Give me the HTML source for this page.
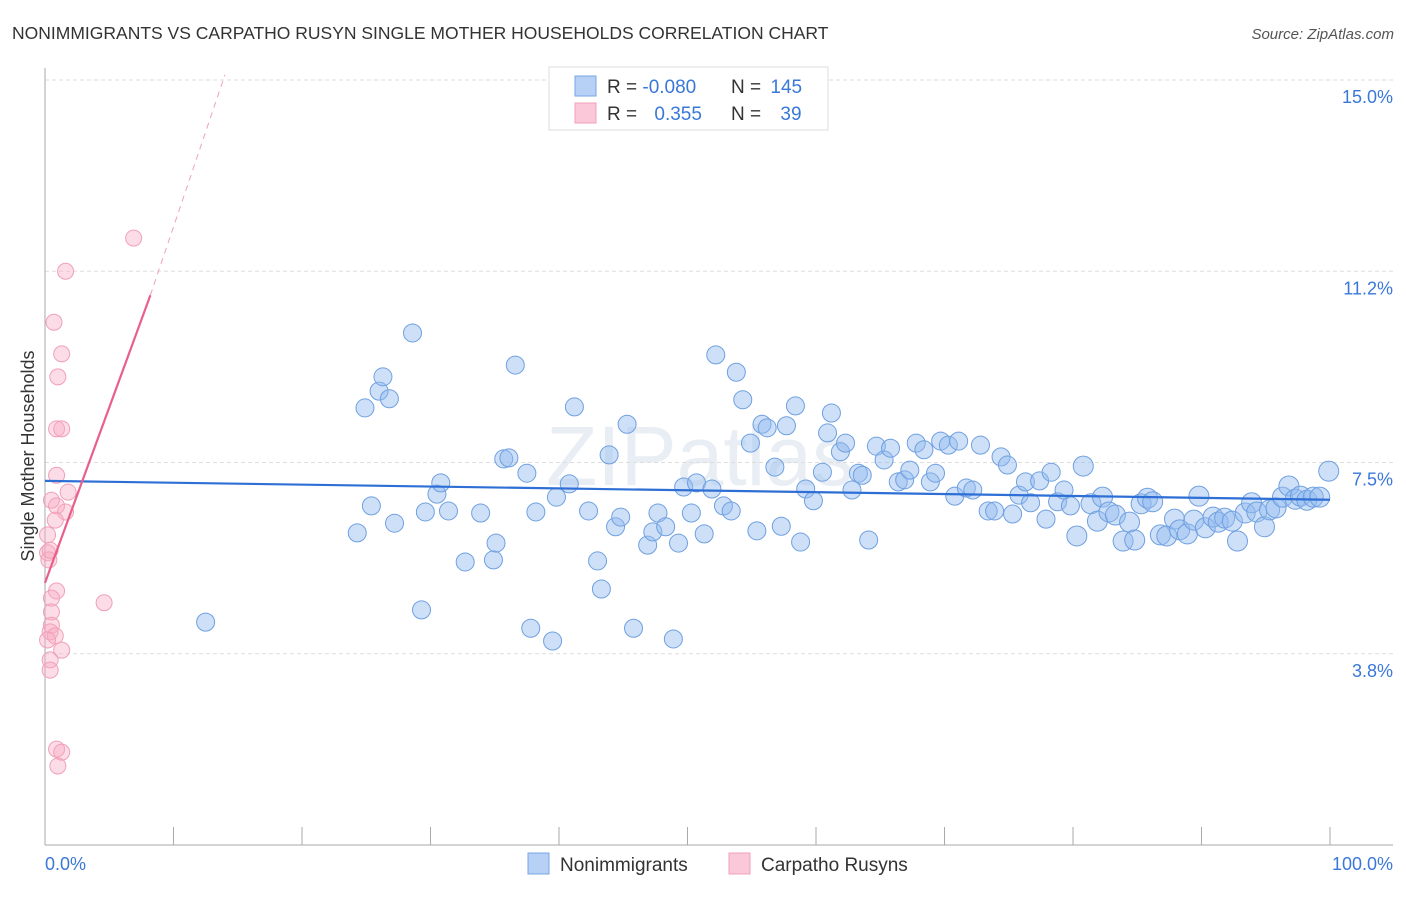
<!DOCTYPE html>
<html><head><meta charset="utf-8"><style>
body{margin:0;background:#fff;font-family:"Liberation Sans",sans-serif;}
svg text{font-family:"Liberation Sans",sans-serif;}
</style></head><body>
<svg width="1406" height="892" viewBox="0 0 1406 892" xmlns="http://www.w3.org/2000/svg">
<text x="12" y="39" font-size="17.5" fill="#333">NONIMMIGRANTS VS CARPATHO RUSYN SINGLE MOTHER HOUSEHOLDS CORRELATION CHART</text>
<text x="1394" y="39" font-size="15" fill="#555" font-style="italic" text-anchor="end">Source: ZipAtlas.com</text>
<text x="700" y="485" font-size="84" fill="#e9eef5" text-anchor="middle" font-family="Liberation Serif">ZIPatlas</text>
<g id="grid"></g>
<line x1="45" y1="68" x2="45" y2="845" stroke="#aaa"/>
<line x1="45" y1="845" x2="1393" y2="845" stroke="#aaa"/>
<g id="xticks"></g>
<text x="45" y="870" font-size="18" fill="#3a78d8">0.0%</text>
<text x="1393" y="870" font-size="18" fill="#3a78d8" text-anchor="end">100.0%</text>
<text transform="translate(34,456) rotate(-90)" font-size="18" fill="#333" text-anchor="middle">Single Mother Households</text>
<g id="pinkpts"></g>
<g id="bluepts"></g>
<g id="lines"></g>
<g>
<rect x="549" y="67" width="279" height="63" fill="#fff" stroke="#ddd"/>
<rect x="575" y="76" width="21" height="20" fill="#b7d0f5" stroke="#7aa6e6"/>
<rect x="575" y="103" width="21" height="20" fill="#fac8d8" stroke="#f0a0b8"/>
<text x="607" y="93" font-size="19" fill="#333">R = <tspan fill="#3a78d8">-0.080</tspan></text>
<text x="731" y="93" font-size="19" fill="#333">N = <tspan fill="#3a78d8" dx="4">145</tspan></text>
<text x="607" y="120" font-size="19" fill="#333">R = <tspan fill="#3a78d8" dx="12">0.355</tspan></text>
<text x="731" y="120" font-size="19" fill="#333">N = <tspan fill="#3a78d8" dx="14">39</tspan></text>
</g>
<g>
<rect x="528" y="853" width="21" height="21" fill="#b7d0f5" stroke="#7aa6e6"/>
<text x="560" y="871" font-size="19" fill="#333">Nonimmigrants</text>
<rect x="729" y="853" width="21" height="21" fill="#fac8d8" stroke="#f0a0b8"/>
<text x="761" y="871" font-size="19" fill="#333">Carpatho Rusyns</text>
</g>
</svg>
<script>
const yTicks=[15.0,11.25,7.5,3.75];
const yTickLabels=["15.0%","11.2%","7.5%","3.8%"];
const xTicks=[0,10,20,30,40,50,60,70,80,90,100];
const blueX=[12.5,24.3,24.9,25.4,26.0,26.3,26.8,27.2,28.6,29.3,29.6,30.5,30.8,31.4,32.7,33.9,34.9,35.1,35.7,36.1,36.6,37.5,37.8,38.2,39.5,39.8,40.8,41.2,42.3,43.0,43.3,43.9,44.4,44.8,45.3,45.8,46.9,47.3,47.7,48.3,48.9,49.3,49.7,50.3,50.7,51.3,51.9,52.2,52.8,53.4,53.8,54.3,54.9,55.4,55.8,56.2,56.8,57.3,57.7,58.4,58.8,59.2,59.8,60.5,60.9,61.2,61.9,62.3,62.8,63.3,63.6,64.1,64.7,65.3,65.8,66.4,66.9,67.3,67.8,68.4,68.9,69.3,69.7,70.3,70.8,71.1,71.7,72.2,72.8,73.4,73.9,74.4,74.9,75.3,75.8,76.3,76.7,77.4,77.9,78.3,78.8,79.3,79.8,80.3,80.8,81.4,81.9,82.3,82.8,83.3,83.9,84.4,84.8,85.3,85.8,86.2,86.8,87.3,87.9,88.3,88.9,89.4,89.8,90.3,90.9,91.3,91.8,92.4,92.8,93.4,93.9,94.3,94.9,95.3,95.8,96.3,96.8,97.3,97.7,98.2,98.7,99.2,99.9];
const blueY=[4.37,6.12,8.57,6.65,8.90,9.18,8.75,6.31,10.04,4.61,6.53,6.88,7.10,6.55,5.55,6.51,5.59,5.92,7.57,7.59,9.41,7.29,4.25,6.53,4.0,6.82,7.08,8.59,6.55,5.57,5.02,7.65,6.24,6.43,8.25,4.25,5.88,6.14,6.51,6.24,4.04,5.92,7.02,6.51,7.10,6.1,6.98,9.61,6.65,6.55,9.27,8.73,7.88,6.16,8.25,8.18,7.41,6.25,8.22,8.61,5.94,6.98,6.75,7.31,8.08,8.47,7.71,7.88,6.96,7.29,7.25,5.98,7.82,7.55,7.78,7.12,7.16,7.35,7.88,7.75,7.12,7.29,7.92,7.84,6.84,7.92,7.0,6.96,7.84,6.55,6.55,7.61,7.45,6.49,6.86,7.12,6.71,7.14,6.39,7.31,6.73,6.96,6.65,6.06,7.43,6.69,6.35,6.82,6.53,6.47,5.96,6.33,5.98,6.69,6.80,6.73,6.08,6.06,6.39,6.18,6.10,6.37,6.84,6.22,6.43,6.33,6.41,6.35,5.96,6.51,6.71,6.53,6.24,6.57,6.61,6.82,7.04,6.78,6.84,6.76,6.82,6.82,7.33];
const pinkX=[6.9,1.6,0.7,1.3,1.0,0.9,1.3,0.9,1.8,0.5,0.9,1.6,0.8,0.2,0.2,0.3,0.9,0.5,4.6,0.5,0.5,0.4,0.8,1.3,0.4,0.4,0.9,1.3,1.0,0.4,0.2];
const pinkY=[11.9,11.25,10.25,9.63,9.18,8.16,8.16,7.25,6.92,6.76,6.65,6.53,6.37,6.08,5.73,5.59,4.98,4.84,4.75,4.57,4.31,4.18,4.10,3.82,3.63,3.43,1.88,1.82,1.55,5.78,4.02];
const blueTrend=[[0,7.14],[100,6.77]];
const pinkTrendSolid=[[0,5.14],[8.2,10.78]];
const pinkTrendDash=[[8.2,10.78],[14,15.1]];

const NS="http://www.w3.org/2000/svg";
const sx=v=>45+v*12.85;
const sy=v=>845-v*51;
function mk(tag,attrs,parent){const e=document.createElementNS(NS,tag);for(const k in attrs)e.setAttribute(k,attrs[k]);document.getElementById(parent).appendChild(e);return e;}
yTicks.forEach((t,i)=>{
  const l=mk('line',{x1:45,x2:1393,y1:sy(t),y2:sy(t),stroke:'#ddd','stroke-dasharray':'4,3'},'grid');
  
  
  const tx=mk('text',{x:1393,y:sy(t)+23,'font-size':18,fill:'#3a78d8','text-anchor':'end'},'grid');
  tx.textContent=yTickLabels[i];
  
  
});
xTicks.forEach(t=>{
  const l=mk('line',{x1:sx(t),x2:sx(t),y1:827,y2:845,stroke:'#aaa'},'xticks');
  
  
});
pinkX.forEach((x,i)=>{
  const c=mk('circle',{cx:sx(x),cy:sy(pinkY[i]),r:8,fill:'rgba(247,170,195,0.4)',stroke:'#f0a0b8','stroke-width':1},'pinkpts');
  
  
});
blueX.forEach((x,i)=>{
  const c=mk('circle',{cx:sx(x),cy:sy(blueY[i]),r:(x>80?10:9),fill:'rgba(147,187,240,0.45)',stroke:'#6fa0e0','stroke-width':1},'bluepts');
  
  
});
let t1=mk('line',{x1:sx(blueTrend[0][0]),y1:sy(blueTrend[0][1]),x2:sx(blueTrend[1][0]),y2:sy(blueTrend[1][1]),stroke:'#2e6fd6','stroke-width':2.2},'lines');


let t2=mk('line',{x1:sx(pinkTrendSolid[0][0]),y1:sy(pinkTrendSolid[0][1]),x2:sx(pinkTrendSolid[1][0]),y2:sy(pinkTrendSolid[1][1]),stroke:'#e8608a','stroke-width':2.2},'lines');


let t3=mk('line',{x1:sx(pinkTrendDash[0][0]),y1:sy(pinkTrendDash[0][1]),x2:sx(pinkTrendDash[1][0]),y2:sy(pinkTrendDash[1][1]),stroke:'#f0a0b8','stroke-width':1,'stroke-dasharray':'6,5'},'lines');


</script>
</body></html>
